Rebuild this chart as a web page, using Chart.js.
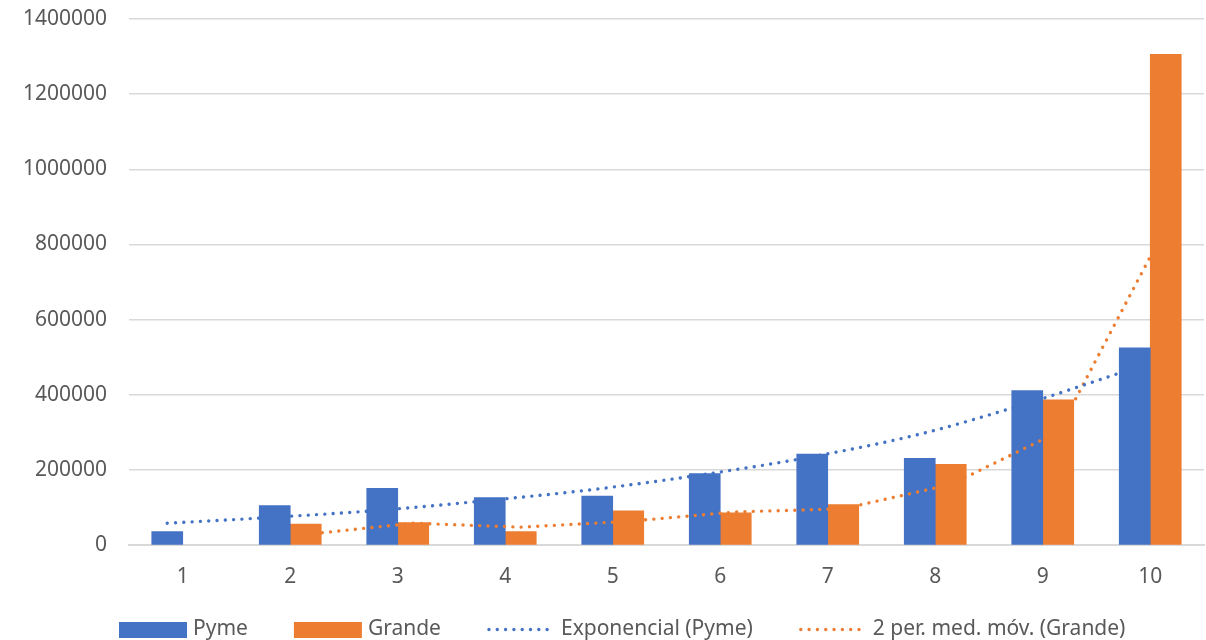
<!DOCTYPE html>
<html>
<head>
<meta charset="utf-8">
<script src="https://cdn.jsdelivr.net/npm/chart.js@4.4.1/dist/chart.umd.min.js"></script>
<style>
  html, body { margin: 0; padding: 0; background: #ffffff; }
  #wrap { width: 1206px; height: 640px; }
</style>
</head>
<body>
<div id="wrap"><canvas id="c" width="1206" height="640"></canvas></div>
<script>
// Categories and series values
const categories = ['1', '2', '3', '4', '5', '6', '7', '8', '9', '10'];
const pymeValues = [35600, 105000, 151000, 126000, 130500, 190000, 242000, 231000, 411000, 525000];
const grandeValues = [null, 56000, 59500, 35700, 91000, 85300, 107600, 215000, 386500, 1306000];
// Trend lines as read at each bar
const pymeExpTrend = [58000, 74000, 93000, 119000, 149000, 188000, 235000, 295000, 377000, 471000];
const grandeMovingAvg = [null, 28000, 58000, 47500, 63000, 88000, 96500, 161000, 301000, 846000];
const yTickValues = [0, 200000, 400000, 600000, 800000, 1000000, 1200000, 1400000];

const BLUE = '#4472C4';
const ORANGE = '#ED7D31';
const TEXT = '#595959';
const GRID = '#D9D9D9';
const FONT = "'Noto Sans', 'Liberation Sans', sans-serif";

// The pair of columns fills this share of each category; each column (and
// its trend line) is centred a quarter of that share off the category centre
const CATEGORY_PCT = 0.577;
const BAR_SHIFT = CATEGORY_PCT / 4;

const toPoints = (vals, shift) =>
  vals.map((v, i) => ({ x: i + 1 + shift, y: v }));

const DOT = { width: 3.4, dash: [0.01, 8.3] };

// Legend drawn under the plot: boxes for columns, dotted strokes for trends
const bottomLegend = {
  id: 'bottomLegend',
  afterDraw(chart) {
    const ctx = chart.ctx;
    const y = 629.5;
    let x = 119;
    ctx.save();
    ctx.font = '21px ' + FONT;
    ctx.textBaseline = 'middle';
    chart.data.datasets.forEach(ds => {
      if (ds.type === 'bar') {
        ctx.fillStyle = ds.backgroundColor;
        ctx.fillRect(x, y - 7.5, 68, 16);
      } else {
        ctx.strokeStyle = ds.borderColor;
        ctx.lineWidth = DOT.width;
        ctx.lineCap = 'round';
        ctx.setLineDash(DOT.dash);
        ctx.beginPath();
        ctx.moveTo(x + 2, y);
        ctx.lineTo(x + 68, y);
        ctx.stroke();
        ctx.setLineDash([]);
      }
      x += 68 + 6;
      ctx.fillStyle = TEXT;
      ctx.fillText(ds.label, x, y);
      x += ctx.measureText(ds.label).width + 46;
    });
    ctx.restore();
  }
};

const barCommon = {
  type: 'bar', xAxisID: 'xl', grouped: false,
  categoryPercentage: 1, barPercentage: 1, order: 2
};
const lineCommon = {
  type: 'line', xAxisID: 'xl',
  borderWidth: DOT.width, borderDash: DOT.dash, borderCapStyle: 'round',
  pointRadius: 0, fill: false, order: 1
};

new Chart(document.getElementById('c'), {
  data: {
    labels: categories,
    datasets: [
      Object.assign({}, barCommon, {
        label: 'Pyme', data: toPoints(pymeValues, -BAR_SHIFT), backgroundColor: BLUE
      }),
      Object.assign({}, barCommon, {
        label: 'Grande', data: toPoints(grandeValues, BAR_SHIFT), backgroundColor: ORANGE
      }),
      Object.assign({}, lineCommon, {
        label: 'Exponencial (Pyme)', data: toPoints(pymeExpTrend, -BAR_SHIFT),
        borderColor: BLUE, backgroundColor: BLUE, cubicInterpolationMode: 'monotone'
      }),
      Object.assign({}, lineCommon, {
        label: '2 per. med. móv. (Grande)', data: toPoints(grandeMovingAvg, BAR_SHIFT),
        borderColor: ORANGE, backgroundColor: ORANGE, tension: 0, spanGaps: false
      })
    ]
  },
  options: {
    responsive: false,
    devicePixelRatio: 1,
    animation: false,
    layout: { padding: { left: 0, right: 2, top: 19, bottom: 35 } },
    plugins: {
      legend: { display: false },
      tooltip: { enabled: false }
    },
    scales: {
      x: {
        type: 'category',
        offset: true,
        grid: { display: false },
        border: { display: true, color: GRID, width: 2 },
        ticks: { color: TEXT, font: { family: FONT, size: 21 }, padding: 11, maxRotation: 0 },
        afterFit: s => { s.height = 60; }
      },
      xl: {
        type: 'linear', display: false, offset: false,
        min: 0.5, max: 10.5,
        grid: { offset: false }
      },
      y: {
        min: 0, max: 1400000,
        // invisible tick marks keep the labels clear of the plot
        grid: { color: GRID, lineWidth: 1.4, drawTicks: true, tickLength: 22, tickColor: 'rgba(0,0,0,0)' },
        border: { display: false },
        ticks: {
          color: TEXT, font: { family: FONT, size: 21 }, padding: 0,
          callback: v => String(v)
        },
        afterBuildTicks: s => { s.ticks = yTickValues.map(v => ({ value: v })); },
        afterFit: s => { s.width = 129; }
      }
    }
  },
  plugins: [bottomLegend]
});
</script>
</body>
</html>
